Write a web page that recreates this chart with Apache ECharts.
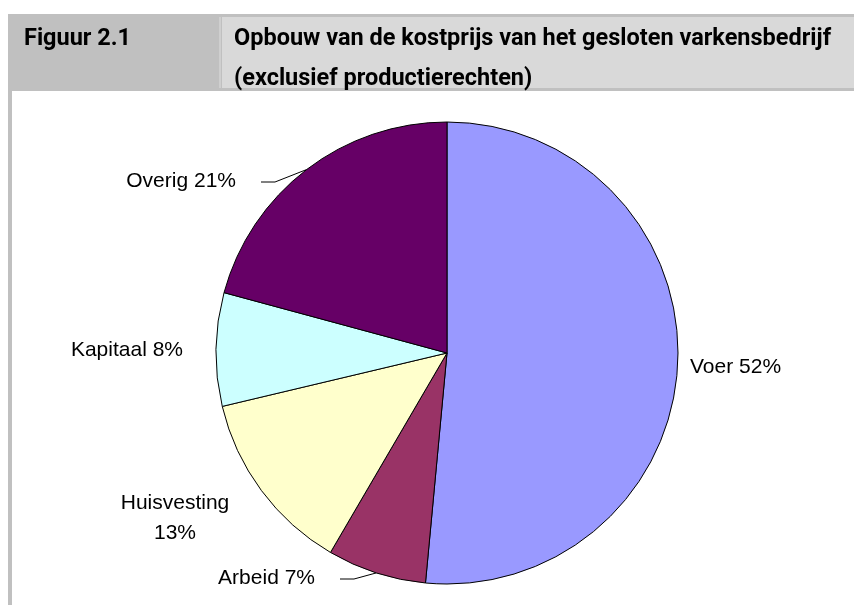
<!DOCTYPE html>
<html>
<head>
<meta charset="utf-8">
<script src="https://cdn.jsdelivr.net/npm/echarts@6/dist/echarts.min.js"></script>
<style>
  html, body { margin: 0; padding: 0; background: #fff; }
  #chart { width: 854px; height: 605px; }
</style>
</head>
<body>
<div id="chart"></div>
<script>
(function () {
  "use strict";

  // data
  var categories = ['Voer', 'Arbeid', 'Huisvesting', 'Kapitaal', 'Overig'];
  var shares = [52, 7, 13, 8, 21];
  var sliceColors = ['#9999ff', '#993366', '#ffffcc', '#ccffff', '#660066'];

  var figureNo = 'Figuur 2.1';
  var figureTitle = 'Opbouw van de kostprijs van het gesloten varkensbedrijf\n(exclusief productierechten)';

  // pie geometry
  var cx = 447, cy = 353, radius = 231;

  // where each label sits (anchor, align) and whether it gets a leader line
  var labelPlace = [
    { x: 690, y: 367, align: 'left' },
    { x: 315, y: 578, align: 'right', line: true },
    { x: 175, y: 518, align: 'center' },
    { x: 183, y: 350, align: 'right' },
    { x: 236, y: 181, align: 'right', line: true }
  ];

  var total = shares.reduce(function (a, b) { return a + b; }, 0);

  // point on the rim at the middle of a slice (clockwise from 12 o'clock)
  function rimPoint(i) {
    var before = 0;
    for (var k = 0; k < i; k++) before += shares[k];
    var a = (before + shares[i] / 2) / total * Math.PI * 2;
    return [cx + Math.sin(a) * radius, cy - Math.cos(a) * radius];
  }

  var seriesData = categories.map(function (name, i) {
    return {
      name: name,
      value: shares[i],
      itemStyle: { color: sliceColors[i] },
      labelLine: { show: !!labelPlace[i].line }
    };
  });

  var myChart = echarts.init(document.getElementById('chart'), null, { renderer: 'canvas' });

  var headerText = {
    fontFamily: 'Roboto',
    fontWeight: 'bold',
    fontSize: 23.5,
    lineHeight: 40,
    fill: '#000'
  };

  var option = {
    animation: false,
    backgroundColor: '#ffffff',
    graphic: [
      // left border of the frame
      { type: 'rect', shape: { x: 8, y: 14, width: 4, height: 600 }, style: { fill: '#c0c0c0' } },
      // header: dark cell + light cell
      { type: 'rect', shape: { x: 8, y: 14, width: 846, height: 77 }, style: { fill: '#c0c0c0' } },
      { type: 'rect', shape: { x: 219, y: 17, width: 2, height: 71 }, style: { fill: '#cfcfcf' } },
      { type: 'rect', shape: { x: 222, y: 17, width: 632, height: 71 }, style: { fill: '#d9d9d9' } },
      {
        type: 'text', x: 24, y: 19,
        style: echarts.util.extend({ text: figureNo }, headerText)
      },
      {
        type: 'text', x: 234, y: 19,
        style: echarts.util.extend({ text: figureTitle }, headerText)
      }
    ],
    series: [{
      type: 'pie',
      center: [cx, cy],
      radius: radius,
      startAngle: 90,
      clockwise: true,
      avoidLabelOverlap: false,
      data: seriesData,
      itemStyle: { borderColor: '#000', borderWidth: 1 },
      emphasis: { disabled: true },
      label: {
        show: true,
        position: 'outside',
        fontFamily: 'Liberation Sans, Arial, sans-serif',
        fontSize: 21,
        lineHeight: 30,
        color: '#000',
        formatter: function (p) {
          return p.name + (p.dataIndex === 2 ? '\n' : ' ') + p.value + '%';
        }
      },
      labelLine: { lineStyle: { color: '#000', width: 1 } },
      labelLayout: function (p) {
        var lp = labelPlace[p.dataIndex];
        var out = { x: lp.x, y: lp.y, align: lp.align, verticalAlign: 'middle' };
        if (lp.line) {
          var rim = rimPoint(p.dataIndex);
          var end = lp.x + 25;
          out.labelLinePoints = [rim, [end + 14, lp.y + 1], [end, lp.y + 1]];
        }
        return out;
      }
    }]
  };

  myChart.setOption(option);
})();
</script>
</body>
</html>
